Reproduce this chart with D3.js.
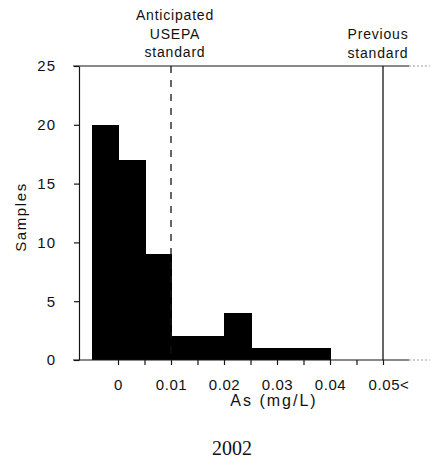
<!DOCTYPE html>
<html>
<head>
<meta charset="utf-8">
<script src="https://cdn.jsdelivr.net/npm/d3@7"></script>
<style>
  body { margin: 0; background: #fff; }
  svg { display: block; }
  text { font-family: "Liberation Sans", Arial, sans-serif; fill: #111; }
</style>
</head>
<body>
<svg></svg>
<script>
let width = 430;
let height = 464;

// histogram bins (left edge, mg/L) and sample counts
const binEdges = [-0.005, 0, 0.005, 0.01, 0.015, 0.02, 0.025, 0.03, 0.035, 0.04, 0.045];
const counts = [20, 17, 9, 2, 2, 4, 1, 1, 1, 0, 0];
const binWidth = 0.005;

const xTicks = [0, 0.005, 0.01, 0.015, 0.02, 0.025, 0.03, 0.035, 0.04, 0.045, 0.05];
const xLabels = ["0", "0.01", "0.02", "0.03", "0.04", "0.05<"];
const yTicks = [0, 5, 10, 15, 20, 25];

const standards = [
  {value: 0.01, lines: ["Anticipated", "USEPA", "standard"], dashed: true},
  {value: 0.05, lines: ["Previous", "standard"], dashed: false}
];

const svg = d3.select("svg")
    .attr("width", width)
    .attr("height", height);

let x = d3.scaleLinear().domain([0, 0.05]).range([118, 383]);
let y = d3.scaleLinear().domain([0, 25]).range([360, 66]);

const ink = "#151515";

// bars (rounded edges so neighbours join without a seam)
svg.append("g")
    .attr("shape-rendering", "crispEdges")
  .selectAll("rect")
  .data(binEdges.map((b, i) => ({x0: b, x1: b + binWidth, n: counts[i]})))
  .join("rect")
    .attr("x", d => Math.round(x(d.x0)))
    .attr("width", d => Math.round(x(d.x1)) - Math.round(x(d.x0)) + 1)
    .attr("y", d => Math.round(y(d.n)))
    .attr("height", d => Math.round(y(0)) - Math.round(y(d.n)))
    .attr("fill", "#000");

// y axis
const yAxis = svg.append("g")
    .attr("transform", "translate(79,0)")
    .call(d3.axisLeft(y).tickValues(yTicks).tickSize(5).tickSizeOuter(0).tickPadding(18));
yAxis.selectAll("text").attr("font-size", 15).attr("letter-spacing", "1px")
    .attr("font-family", "'Liberation Sans', Arial, sans-serif").attr("fill", ink);
yAxis.selectAll("line, path").attr("stroke", ink).attr("stroke-width", 1.2);

// x axis
const labelFor = v => {
  const k = Math.round(v * 1000);
  return k % 10 === 0 ? xLabels[k / 10] : "";
};
const xAxis = svg.append("g")
    .attr("transform", `translate(0,${y(0)})`)
    .call(d3.axisBottom(x).tickValues(xTicks).tickSize(5).tickPadding(14).tickFormat(labelFor));
xAxis.select(".domain").remove();
xAxis.selectAll("text").attr("font-size", 15).attr("letter-spacing", "0.6px")
    .attr("font-family", "'Liberation Sans', Arial, sans-serif").attr("fill", ink);
xAxis.selectAll("line").attr("stroke", ink).attr("stroke-width", 1.2);
xAxis.selectAll("text").filter(t => labelFor(t).endsWith("<"))
    .attr("text-anchor", "start").attr("x", -15);

// top frame line and baseline, fading out on the right
[y(25), y(0)].forEach(yy => {
  svg.append("line")
      .attr("x1", 73).attr("x2", 409).attr("y1", yy).attr("y2", yy)
      .attr("stroke", ink).attr("stroke-width", 1.2);
  svg.append("line")
      .attr("x1", 409).attr("x2", 430).attr("y1", yy).attr("y2", yy)
      .attr("stroke", "#999").attr("stroke-width", 1).attr("stroke-dasharray", "2,2");
});

// standard lines + labels
standards.forEach(s => {
  svg.append("line")
      .attr("x1", x(s.value)).attr("x2", x(s.value))
      .attr("y1", y(25)).attr("y2", y(0))
      .attr("stroke", ink).attr("stroke-width", 1.3)
      .attr("stroke-dasharray", s.dashed ? "7,7" : null);
  const base = s.lines.length === 3 ? 20 : 39;
  svg.append("g")
    .selectAll("text")
    .data(s.lines)
    .join("text")
      .attr("x", x(s.value) + (s.dashed ? 4 : -5))
      .attr("y", (d, i) => base + i * 18.5)
      .attr("text-anchor", "middle")
      .attr("font-size", 14)
      .attr("letter-spacing", "0.8px")
      .text(d => d);
});

// axis titles
svg.append("text")
    .attr("x", 274).attr("y", 406)
    .attr("text-anchor", "middle")
    .attr("font-size", 16)
    .attr("letter-spacing", "2px")
    .text("As (mg/L)");

svg.append("text")
    .attr("transform", "translate(26,217) rotate(-90)")
    .attr("text-anchor", "middle")
    .attr("font-size", 15)
    .attr("letter-spacing", "1.6px")
    .text("Samples");

svg.append("text")
    .attr("x", 232).attr("y", 455)
    .attr("text-anchor", "middle")
    .attr("font-size", 20)
    .style("font-family", "'Liberation Serif', 'DejaVu Serif', serif")
    .text("2002");
</script>
</body>
</html>
